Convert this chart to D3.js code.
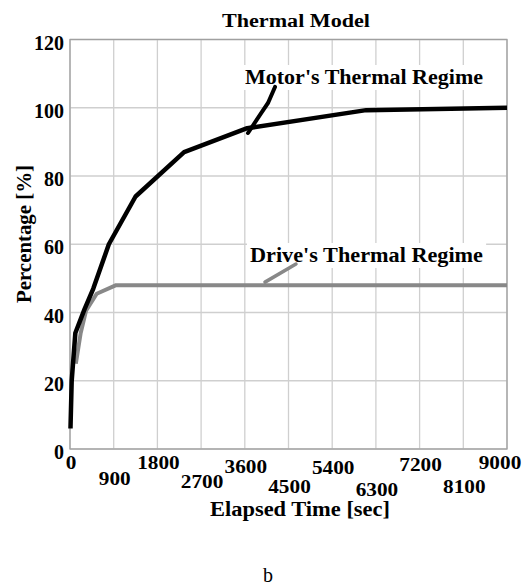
<!DOCTYPE html>
<html>
<head>
<meta charset="utf-8">
<script src="https://cdn.jsdelivr.net/npm/d3@7"></script>
<style>
  body { margin: 0; background: #fff; }
  text { font-family: 'Liberation Serif', 'Times New Roman', serif; }
</style>
</head>
<body>
<div id="chart"></div>
<script>
/*
* Thermal model chart
*/

// elapsed time [sec] / percentage [%]
let motorTime = [10, 35, 110, 300, 480, 800, 1350, 2350, 3650, 6100, 9000];
let motorPct = [6, 20, 34, 41, 47, 60, 74, 87, 94, 99.3, 100];

let driveTime = [120, 220, 330, 550, 950, 9000];
let drivePct = [25, 34, 40.5, 45.5, 48, 48];

let xTicks = [0, 900, 1800, 2700, 3600, 4500, 5400, 6300, 7200, 8100, 9000];
let yTicks = [0, 20, 40, 60, 80, 100, 120];

// leader lines for the two labels
let motorLeaderTime = [4222, 4078, 3954, 3666];
let motorLeaderPct = [106.1, 101.4, 98.8, 92.6];
let driveLeaderTime = [4654, 4016];
let driveLeaderPct = [54.2, 48.9];

let width = 528;
let height = 585;
let COLORS = {
  motor: '#000',
  drive: '#888',
  grid: '#cfcfcf',
  frame: '#a0a0a0'
};

let svg = d3.select('#chart').append('svg')
  .attr('width', width)
  .attr('height', height);

let x = d3.scaleLinear().domain([0, 9000]).range([70, 507]);
let y = d3.scaleLinear().domain([0, 120]).range([449, 39.5]);

// grid
svg.append('g').selectAll('line').data(xTicks).enter().append('line')
  .attr('x1', d => x(d)).attr('x2', d => x(d))
  .attr('y1', y(0)).attr('y2', y(120))
  .style('stroke', COLORS.grid).style('stroke-width', 1.3);

svg.append('g').selectAll('line').data(yTicks).enter().append('line')
  .attr('y1', d => y(d)).attr('y2', d => y(d))
  .attr('x1', x(0)).attr('x2', x(9000))
  .style('stroke', COLORS.grid).style('stroke-width', 1.3);

svg.append('rect')
  .attr('x', x(0)).attr('y', y(120))
  .attr('width', x(9000) - x(0)).attr('height', y(0) - y(120))
  .style('fill', 'none').style('stroke', COLORS.frame).style('stroke-width', 1.3);

// tick labels
svg.append('g').selectAll('text').data(yTicks).enter().append('text')
  .attr('x', 64)
  .attr('y', d => y(d) + 10)
  .style('text-anchor', 'end')
  .style('font-size', '20px')
  .style('font-weight', 'bold')
  .text(d => d);

// staggered x labels, Mathcad style
let tickBase = [469, 485, 469, 488, 473, 493, 474, 496, 471, 493, 469];
svg.append('g').selectAll('text').data(xTicks).enter().append('text')
  .attr('transform', (d, i) => {
    let px = i === xTicks.length - 1 ? 500 : x(d) + 1;
    return 'translate(' + px + ',' + tickBase[i] + ') scale(1.12,1)';
  })
  .style('text-anchor', 'middle')
  .style('font-size', '19px')
  .style('font-weight', 'bold')
  .text(d => d);

// series
let line = d3.line()
  .x(d => x(d[0]))
  .y(d => y(d[1]));

let drive = d3.zip(driveTime, drivePct);
let motor = d3.zip(motorTime, motorPct);

svg.append('path')
  .attr('d', line(drive))
  .style('fill', 'none')
  .style('stroke', COLORS.drive)
  .style('stroke-width', 4)
  .style('stroke-linejoin', 'round');

svg.append('path')
  .attr('d', line(motor))
  .style('fill', 'none')
  .style('stroke', COLORS.motor)
  .style('stroke-width', 4.5)
  .style('stroke-linejoin', 'round');

// labels with white boxes
function addLabel(txt, lx, ly, len) {
  let g = svg.append('g');
  let t = g.append('text')
    .attr('x', lx).attr('y', ly)
    .attr('textLength', len)
    .attr('lengthAdjust', 'spacingAndGlyphs')
    .style('font-size', '20px')
    .style('font-weight', 'bold')
    .text(txt);
  let b = t.node().getBBox();
  g.insert('rect', 'text')
    .attr('x', b.x - 3).attr('y', b.y - 1)
    .attr('width', b.width + 6).attr('height', b.height + 2)
    .style('fill', '#fff');
}

addLabel("Motor's Thermal Regime", 245, 84, 238);
addLabel("Drive's Thermal Regime", 250, 262, 233);

svg.append('path')
  .attr('d', line(d3.zip(motorLeaderTime, motorLeaderPct)))
  .style('fill', 'none').style('stroke', COLORS.motor)
  .style('stroke-width', 4).style('stroke-linecap', 'round');

svg.append('path')
  .attr('d', line(d3.zip(driveLeaderTime, driveLeaderPct)))
  .style('fill', 'none').style('stroke', COLORS.drive)
  .style('stroke-width', 3.5).style('stroke-linecap', 'round');

// titles
svg.append('text')
  .attr('x', 222).attr('y', 27)
  .attr('textLength', 148)
  .attr('lengthAdjust', 'spacingAndGlyphs')
  .style('font-size', '18px')
  .style('font-weight', 'bold')
  .text('Thermal Model');

svg.append('text')
  .attr('x', 210).attr('y', 516)
  .attr('textLength', 180)
  .attr('lengthAdjust', 'spacingAndGlyphs')
  .style('font-size', '20px')
  .style('font-weight', 'bold')
  .text('Elapsed Time [sec]');

svg.append('text')
  .attr('transform', 'translate(31,303) rotate(-90)')
  .attr('textLength', 138)
  .attr('lengthAdjust', 'spacingAndGlyphs')
  .style('font-size', '20px')
  .style('font-weight', 'bold')
  .text('Percentage [%]');

svg.append('text')
  .attr('x', 268).attr('y', 582)
  .style('text-anchor', 'middle')
  .style('font-size', '20px')
  .text('b');
</script>
</body>
</html>
